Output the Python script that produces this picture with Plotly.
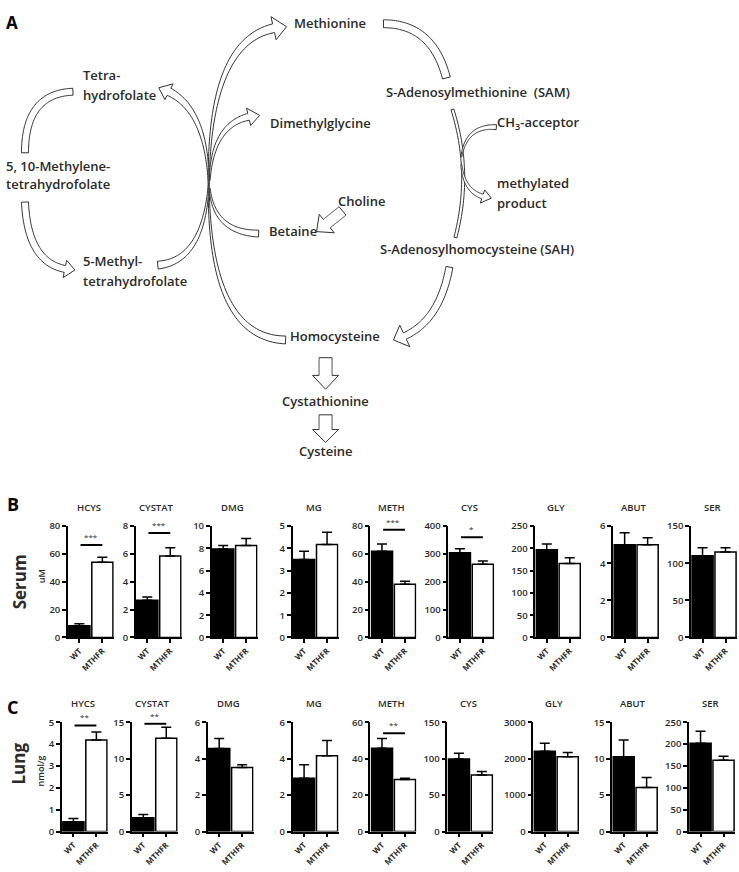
import numpy as np
import plotly.graph_objects as go

W, H = 739, 872

# ---------------- data ----------------
categories = ['WT', 'MTHFR']

serum_names = ['HCYS', 'CYSTAT', 'DMG', 'MG', 'METH', 'CYS', 'GLY', 'ABUT', 'SER']
serum_wt = [8.5, 2.67, 7.95, 3.5, 62, 304, 197, 5.0, 110]
serum_wt_err = [1.3, 0.24, 0.32, 0.37, 5.2, 15, 13, 0.64, 11]
serum_mt = [54, 5.85, 8.25, 4.18, 38.2, 263, 166, 5.0, 115]
serum_mt_err = [3.6, 0.6, 0.63, 0.55, 2.2, 12, 13, 0.37, 6]
serum_ymax = [80, 8, 10, 5, 80, 400, 250, 6, 150]
serum_dtick = [20, 2, 2, 1, 20, 100, 50, 2, 50]
serum_sig = ['***', '***', '', '', '***', '*', '', '', '']
serum_sig_level = [66.5, 7.5, None, None, 77.4, 360, None, None, None]

lung_names = ['HYCS', 'CYSTAT', 'DMG', 'MG', 'METH', 'CYS', 'GLY', 'ABUT', 'SER']
lung_wt = [0.45, 1.9, 4.55, 2.93, 45.7, 99.4, 2205, 10.26, 202]
lung_wt_err = [0.15, 0.45, 0.55, 0.74, 5.3, 8.1, 217, 2.3, 27]
lung_mt = [4.19, 12.8, 3.52, 4.16, 28.6, 77.7, 2051, 6.05, 163]
lung_mt_err = [0.36, 1.5, 0.15, 0.83, 0.7, 4.5, 118, 1.35, 9]
lung_ymax = [5, 15, 6, 6, 60, 150, 3000, 15, 250]
lung_dtick = [1, 5, 2, 2, 20, 50, 1000, 5, 50]
lung_sig = ['**', '**', '', '', '**', '', '', '', '']
lung_sig_level = [4.85, 14.8, None, None, 53.9, None, None, None, None]

# ---------------- layout geometry (pixels) ----------------
serum_x0 = [67, 135, 211, 292, 370, 448, 535, 613, 691]
lung_x0 = [61, 131, 207, 292, 370, 447, 533, 612, 689]
panel_w = 46
serum_top, serum_bot = 527, 640
lung_top, lung_bot = 726, 837
serum_title_y = 508
lung_title_y = 707

FONT = 'Open Sans'
TXT = '#2a2a2a'


def px(x):
    return x / W


def py(y):
    return 1 - y / H


fig = go.Figure()
annotations = []
shapes = []


def add_panel(n, x0, top, bot, name, wt, wte, mt, mte, ymax, dtick, sig, siglev, title_y):
    xa = 'x' if n == 1 else f'x{n}'
    ya = 'y' if n == 1 else f'y{n}'
    fig.add_trace(go.Bar(
        x=categories, y=[wt, mt],
        marker=dict(color=['black', 'white'], line=dict(color='black', width=1.5)),
        error_y=dict(type='data', symmetric=False, array=[wte, mte], arrayminus=[0, 0],
                     color='black', thickness=1.5, width=5),
        xaxis=xa, yaxis=ya, showlegend=False, hoverinfo='skip'))
    key = '' if n == 1 else str(n)
    fig.layout[f'xaxis{key}'] = dict(
        domain=[px(x0), px(x0 + panel_w)], anchor=ya, type='category',
        categoryorder='array', categoryarray=categories, range=[-0.5, 1.5],
        showline=True, linecolor='black', linewidth=1.5, ticks='outside', ticklen=4,
        tickwidth=1.5, tickcolor='black', tickangle=-45,
        tickfont=dict(family=FONT, size=8, color=TXT, weight=700), showgrid=False, fixedrange=True)
    fig.layout[f'yaxis{key}'] = dict(
        domain=[py(bot), py(top)], anchor=xa, range=[0, ymax], tick0=0, dtick=dtick,
        showline=True, linecolor='black', linewidth=1.5, ticks='outside', ticklen=4,
        tickwidth=1.5, tickcolor='black', showgrid=False, zeroline=False,
        tickfont=dict(family=FONT, size=9.5, color=TXT, weight=600), fixedrange=True)
    annotations.append(dict(x=px(x0 + panel_w / 2 - 2), y=py(title_y), xref='paper', yref='paper',
                            text=name, showarrow=False, xanchor='center', yanchor='middle',
                            font=dict(family=FONT, size=9.5, color=TXT, weight=600)))
    if sig:
        shapes.append(dict(type='line', xref=xa, yref=ya, x0=0.05, x1=1, y0=siglev, y1=siglev,
                           line=dict(color='black', width=2)))
        annotations.append(dict(x=0.5, y=siglev, xref=xa, yref=ya, text=sig, showarrow=False,
                                yanchor='bottom', yshift=1,
                                font=dict(family=FONT, size=8, color=TXT)))


for i in range(9):
    add_panel(i + 1, serum_x0[i], serum_top, serum_bot, serum_names[i], serum_wt[i], serum_wt_err[i],
              serum_mt[i], serum_mt_err[i], serum_ymax[i], serum_dtick[i], serum_sig[i],
              serum_sig_level[i], serum_title_y)
for i in range(9):
    add_panel(i + 10, lung_x0[i], lung_top, lung_bot, lung_names[i], lung_wt[i], lung_wt_err[i],
              lung_mt[i], lung_mt_err[i], lung_ymax[i], lung_dtick[i], lung_sig[i],
              lung_sig_level[i], lung_title_y)


# ---------------- panel labels ----------------
def label(text, x, y, size, xanchor='left', angle=0, weight=600, color=TXT, dy=0):
    annotations.append(dict(x=px(x), y=py(y + dy), xref='paper', yref='paper', text=text,
                            showarrow=False, xanchor=xanchor, yanchor='middle', textangle=angle,
                            font=dict(family=FONT, size=size, color=color, weight=weight)))


label('A', 3, 16, 17, weight=700, color='black')
label('B', 4, 505, 18, weight=700, color='black')
label('C', 4, 711, 18, weight=700, color='black')
label('Serum', 18, 583, 17, xanchor='center', angle=-90, weight=700)
label('uM', 40, 578, 9, xanchor='center', angle=-90)
label('Lung', 18, 768, 17, xanchor='center', angle=-90, weight=700)
label('nmol/g', 39, 775, 9, xanchor='center', angle=-90)

# ---------------- pathway diagram ----------------
PS = 13
D = -4
label('Methionine', 291, 20, PS, dy=D)
label('Tetra-', 80, 73, PS, dy=D)
label('hydrofolate', 80, 93, PS, dy=D)
label('Dimethylglycine', 267, 122, PS, dy=D)
label('5, 10-Methylene-', 3, 165, PS, dy=D)
label('tetrahydrofolate', 3, 184, PS, dy=D)
label('Choline', 335, 201, PS, dy=D)
label('Betaine', 266, 231, PS, dy=D)
label('5-Methyl-', 80, 262, PS, dy=D)
label('tetrahydrofolate', 80, 282, PS, dy=D)
label('Homocysteine', 287, 338, PS, dy=D)
label('Cystathionine', 325, 404, PS, xanchor='center', dy=D)
label('Cysteine', 325, 455, PS, xanchor='center', dy=D)
label('S-Adenosylmethionine  (SAM)', 384, 90, PS, dy=D)
label('CH<sub>3</sub>-acceptor', 495, 122, PS, dy=D)
label('methylated', 495, 183, PS, dy=D)
label('product', 495, 203, PS, dy=D)
label('S-Adenosylhomocysteine (SAH)', 378, 250, PS, dy=D)


def bez(p0, c, p2, t):
    t = np.asarray(t)[:, None]
    p0, c, p2 = map(np.asarray, (p0, c, p2))
    return (1 - t) ** 2 * p0 + 2 * (1 - t) * t * c + t ** 2 * p2


def dbez(p0, c, p2, t):
    t = np.asarray(t)[:, None]
    p0, c, p2 = map(np.asarray, (p0, c, p2))
    return 2 * (1 - t) * (c - p0) + 2 * t * (p2 - c)


def arrow(p0, c, p2, w0, w1, head=None, lw=1):
    p0, c, p2 = (np.array(p, float) for p in (p0, c, p2))
    tend = 1.0
    if head:
        hl, hw = head
        ts = np.linspace(0, 1, 400)
        d = np.linalg.norm(bez(p0, c, p2, ts) - p2, axis=1)
        idx = np.where(d >= hl)[0]
        tend = ts[idx[-1]] if len(idx) else 0.5
    ts = np.linspace(0, tend, 50)
    pts = bez(p0, c, p2, ts)
    der = dbez(p0, c, p2, ts)
    tang = der / np.linalg.norm(der, axis=1)[:, None]
    nrm = np.stack([-tang[:, 1], tang[:, 0]], axis=1)
    w = w0 + (w1 - w0) * ts / tend
    L = pts + nrm * w[:, None] / 2
    R = pts - nrm * w[:, None] / 2
    poly = list(L)
    if head:
        base = pts[-1]
        poly += [base + nrm[-1] * hw, p2, base - nrm[-1] * hw]
    poly += list(R[::-1])
    path = 'M ' + ' L '.join(f'{px(x):.5f},{py(y):.5f}' for x, y in poly) + ' Z'
    shapes.append(dict(type='path', path=path, xref='paper', yref='paper',
                       line=dict(color='#333', width=lw), fillcolor='white', layer='above'))


# left folate cycle
arrow((72, 86), (24, 88), (24, 148), 7, 7)
arrow((24, 198), (27, 266), (74, 267), 7, 7, head=(10, 9))
# central crossing arcs
arrow((157, 262), (203, 258), (208, 180), 8, 0.8)
arrow((208, 180), (206, 96), (158, 82), 0.8, 8, head=(11, 9))
arrow((285, 338), (208, 336), (208, 180), 8, 0.8)
arrow((208, 180), (208, 22), (286, 20), 0.8, 9, head=(13, 12))
arrow((209, 176), (212, 112), (259, 110), 0.8, 7, head=(11, 9))
arrow((258, 230), (213, 229), (209, 184), 7, 0.8)
# choline -> betaine
arrow((342, 207), (331, 216), (316, 228), 11, 11, head=(13, 12))
# methylation cycle
arrow((383, 17), (432, 17), (446, 72), 8, 8)
arrow((452, 104), (472, 168), (455, 234), 3, 3)
arrow((496, 122), (466, 120), (461, 152), 5, 1)
arrow((461, 160), (464, 192), (491, 194), 1, 5, head=(9, 7))
arrow((449, 264), (438, 326), (393, 338), 7, 7, head=(12, 12))
# transsulfuration
arrow((325, 356), (325, 372), (325, 388), 13, 13, head=(14, 13))
arrow((325, 414), (325, 428), (325, 442), 13, 13, head=(13, 13))

fig.update_layout(
    width=W, height=H, margin=dict(l=0, r=0, t=0, b=0),
    paper_bgcolor='white', plot_bgcolor='white', bargap=0.08,
    annotations=annotations, shapes=shapes, showlegend=False)

fig.write_html('out.html', config={'displayModeBar': False},
               post_script="document.body.style.margin='0';document.body.style.overflow='hidden';")
